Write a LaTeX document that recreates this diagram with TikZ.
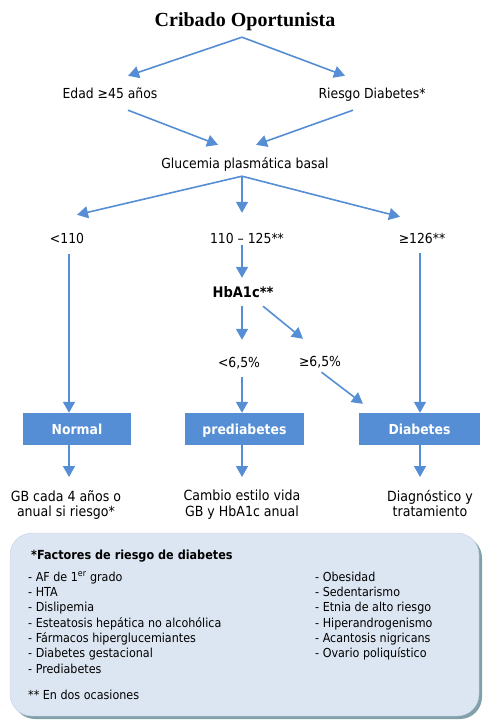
\documentclass[tikz,border=0pt]{standalone}
\usepackage{fontspec}
\setmainfont{DejaVu Sans Condensed}
\newfontfamily\titlefont{Liberation Serif}
\usetikzlibrary{positioning,arrows.meta}

\definecolor{flowblue}{RGB}{85,142,213}
\definecolor{notefill}{RGB}{220,230,242}
\definecolor{noteline}{RGB}{196,210,226}
\definecolor{noteshadow}{RGB}{130,160,170}

\tikzset{
  lbl/.style={inner sep=0pt,text height=9pt,text depth=3pt,font=\fontsize{13.8}{16}\selectfont},
  res/.style={fill=flowblue,text=white,minimum height=32pt,inner sep=0pt,text height=12pt,text depth=2pt,font=\fontsize{13.8}{16}\selectfont\bfseries},
  act/.style={inner sep=0pt,anchor=north,align=center,font=\fontsize{14}{15.5}\selectfont},
  arr/.style={draw=flowblue,line width=1.6pt,-{Triangle[length=11pt,width=12pt]}},
  item/.style={anchor=base west,inner sep=0pt,font=\fontsize{12.4}{14}\selectfont},
}

\begin{document}
\begin{tikzpicture}[x=1pt,y=-1pt]
  \useasboundingbox (0,0) rectangle (482,720);

  % cribado
  \node[inner sep=0pt,text height=14pt,text depth=4pt,font=\titlefont\fontsize{20}{24}\selectfont\bfseries] (cribado) at (245,22) {Cribado Oportunista};
  \node[lbl] (edad) at (110,95) {Edad ≥45 años};
  \node[lbl] (riesgo) at (372,95) {Riesgo Diabetes*};
  \node[lbl] (glucemia) at (245,165) {Glucemia plasmática basal};

  \draw[arr] ([xshift=-3pt,yshift=-6pt]cribado.south) -- ([xshift=18pt,yshift=13pt]edad.north);
  \draw[arr] ([xshift=-3pt,yshift=-6pt]cribado.south) -- ([xshift=-27pt,yshift=13pt]riesgo.north);
  \draw[arr] ([xshift=18pt,yshift=-9pt]edad.south) -- ([xshift=-27pt,yshift=14pt]glucemia.north);
  \draw[arr] ([xshift=-19pt,yshift=-9pt]riesgo.south) -- ([xshift=11pt,yshift=14pt]glucemia.north);

  % GB
  \node[lbl] (lt110) at (67,240) {<110};
  \node[lbl] (mid) at (247,240) {110 – 125**};
  \node[lbl] (ge126) at (422,240) {≥126**};

  \draw[arr] ([xshift=-3pt,yshift=-5pt]glucemia.south) -- ([xshift=10pt,yshift=19pt]lt110.north);
  \draw[arr] ([xshift=-3pt,yshift=-5pt]glucemia.south) -- ([xshift=-5pt,yshift=21pt]mid.north);
  \draw[arr] ([xshift=-3pt,yshift=-5pt]glucemia.south) -- ([xshift=-22pt,yshift=17pt]ge126.north);

  % HbA1c
  \node[lbl,font=\fontsize{14.5}{16}\selectfont\bfseries] (hba) at (243,294) {HbA1c**};
  \node[lbl] (lt65) at (239,364) {<6,5\%};
  \node[lbl] (ge65) at (320,363) {≥6,5\%};

  \draw[arr] ([xshift=-5pt,yshift=1pt]mid.south) -- ([xshift=-1pt,yshift=10pt]hba.north);
  \draw[arr] ([xshift=-1pt,yshift=-6pt]hba.south) -- ([xshift=3pt,yshift=18pt]lt65.north);
  \draw[arr] ([xshift=20pt,yshift=-6pt]hba.south) -- ([xshift=-17pt,yshift=18pt]ge65.north);

  % resultados
  \node[res,minimum width=108pt] (normal) at (77,429) {Normal};
  \node[res,minimum width=119pt] (pre) at (244.5,429) {prediabetes};
  \node[res,minimum width=121pt] (diab) at (419.5,429) {Diabetes};

  \draw[arr] ([xshift=2pt,yshift=-8pt]lt110.south) -- ([xshift=-8pt]normal.north);
  \draw[arr] ([xshift=3pt,yshift=-7pt]lt65.south) -- ([xshift=-2.5pt]pre.north);
  \draw[arr] ([xshift=1.5pt,yshift=-3pt]ge65.south) -- ([xshift=-56.5pt,yshift=9pt]diab.north);
  \draw[arr] ([xshift=-2pt,yshift=-7pt]ge126.south) -- ([xshift=0.5pt]diab.north);

  % acciones
  \node[act] (gb) at (66,490) {GB cada 4 años o\\anual si riesgo*};
  \node[act] (cambio) at (242,490) {Cambio estilo vida\\GB y HbA1c anual};
  \node[act] (diag) at (430,490) {Diagnóstico y\\tratamiento};

  \draw[arr] ([xshift=-8pt]normal.south) -- ([xshift=3pt,yshift=13pt]gb.north);
  \draw[arr] ([xshift=-2.5pt]pre.south) -- ([yshift=13pt]cambio.north);
  \draw[arr] ([xshift=0.5pt]diab.south) -- ([xshift=-10pt,yshift=13pt]diag.north);

  % factores de riesgo
  \fill[noteshadow,rounded corners=22pt] (13,536) rectangle (482,719);
  \draw[noteline,fill=notefill,rounded corners=22pt] (10,533) rectangle (479,716);

  \node[item,font=\fontsize{12.5}{15}\selectfont\bfseries] (factores) at (31,559) {*Factores de riesgo de diabetes};
  \foreach \t [count=\i] in {AF de 1\textsuperscript{er} grado, HTA, Dislipemia,
    Esteatosis hepática no alcohólica, Fármacos hiperglucemiantes,
    Diabetes gestacional, Prediabetes}
    \node[item] (izq\i) at (28,{581+15.35*(\i-1)}) {- \t};
  \foreach \t [count=\i] in {Obesidad, Sedentarismo, Etnia de alto riesgo,
    Hiperandrogenismo, Acantosis nigricans, Ovario poliquístico}
    \node[item] (der\i) at (315,{581+15.35*(\i-1)}) {- \t};
  \node[item] (ocasiones) at (28,699) {** En dos ocasiones};
\end{tikzpicture}
\end{document}
